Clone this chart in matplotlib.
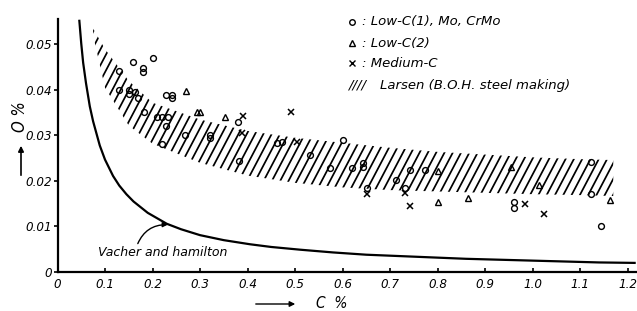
import numpy as np
import matplotlib
matplotlib.use("Agg")
import matplotlib.pyplot as plt

# Low-C(1), Mo, CrMo  (open circles)
c1_x = [0.130, 0.158, 0.181, 0.181, 0.200, 0.130, 0.151, 0.151, 0.163, 0.169, 0.182,
        0.229, 0.241, 0.241, 0.209, 0.221, 0.232, 0.228, 0.221, 0.269, 0.320, 0.320,
        0.381, 0.382, 0.462, 0.473, 0.532, 0.600, 0.574, 0.621, 0.643, 0.643, 0.651,
        0.713, 0.732, 0.742, 0.773, 0.962, 0.962, 1.123, 1.123, 1.145]
c1_y = [0.0442, 0.0461, 0.0448, 0.0440, 0.0470, 0.0400, 0.0400, 0.0391, 0.0396, 0.0382, 0.0351,
        0.0389, 0.0389, 0.0383, 0.0340, 0.0340, 0.0340, 0.0321, 0.0281, 0.0300, 0.0301, 0.0295,
        0.0330, 0.0244, 0.0283, 0.0285, 0.0258, 0.0290, 0.0228, 0.0228, 0.0240, 0.0230, 0.0184,
        0.0202, 0.0184, 0.0224, 0.0224, 0.0153, 0.0141, 0.0242, 0.0171, 0.0101]

# Low-C(2)  (open triangles)
c2_x = [0.271, 0.293, 0.301, 0.353, 0.802, 0.802, 0.865, 0.954, 1.013, 1.163]
c2_y = [0.0398, 0.0351, 0.0351, 0.0340, 0.0223, 0.0153, 0.0163, 0.0230, 0.0192, 0.0158]

# Medium-C  (crosses)
med_x = [0.391, 0.388, 0.492, 0.505, 0.651, 0.732, 0.742, 0.984, 1.024]
med_y = [0.0343, 0.0305, 0.0351, 0.0286, 0.0171, 0.0173, 0.0144, 0.0150, 0.0128]

# Larsen band (B.O.H. steel making)
band_x = [0.075, 0.10, 0.15, 0.20, 0.30, 0.40, 0.50, 0.60, 0.70, 0.80, 0.90, 1.00, 1.10, 1.17]
band_hi = [0.0535, 0.0490, 0.0420, 0.0372, 0.0335, 0.0310, 0.0295, 0.0284, 0.0273, 0.0264,
           0.0258, 0.0252, 0.0248, 0.0246]
band_lo = [0.0520, 0.0405, 0.0322, 0.0282, 0.0240, 0.0212, 0.0196, 0.0186, 0.0180, 0.0177,
           0.0174, 0.0171, 0.0169, 0.0167]

# Vacher and Hamilton curve
vh_x = [0.046, 0.050, 0.054, 0.060, 0.068, 0.075, 0.089, 0.100, 0.117, 0.130, 0.145, 0.160,
        0.190, 0.230, 0.260, 0.300, 0.350, 0.405, 0.450, 0.511, 0.580, 0.650, 0.720, 0.790,
        0.860, 0.930, 1.000, 1.070, 1.140, 1.215]
vh_y = [0.0552, 0.0502, 0.0460, 0.0415, 0.0364, 0.0331, 0.0278, 0.0247, 0.0211, 0.0190,
        0.0171, 0.0155, 0.0130, 0.0106, 0.0094, 0.0081, 0.0070, 0.0061, 0.0055, 0.0049,
        0.0043, 0.0038, 0.0035, 0.0032, 0.0029, 0.0027, 0.0025, 0.0023, 0.0021, 0.0020]

x_ticks = [0, 0.1, 0.2, 0.3, 0.4, 0.5, 0.6, 0.7, 0.8, 0.9, 1.0, 1.1, 1.2]
x_labels = ["0", "0.1", "0.2", "0.3", "0.4", "0.5", "0.6", "0.7", "0.8", "0.9", "1.0", "1.1", "1.2"]
y_ticks = [0, 0.01, 0.02, 0.03, 0.04, 0.05]
y_labels = ["0", "0.01", "0.02", "0.03", "0.04", "0.05"]

narrow = dict(family="DejaVu Sans", stretch="condensed", style="italic")
plain = dict(family="DejaVu Sans", style="italic")

fig = plt.figure(figsize=(6.37, 3.11), dpi=100)
ax = fig.add_axes([57.5 / 637, 39 / 311, 579.5 / 637, 253 / 311])
ax.set_xlim(0, 1.22)
ax.set_ylim(0, 0.0556)
for s in ["top", "right"]:
    ax.spines[s].set_visible(False)
for s in ["left", "bottom"]:
    ax.spines[s].set_linewidth(1.6)

ax.set_xticks(x_ticks)
ax.set_xticklabels(x_labels, fontsize=9.5, **narrow)
ax.set_yticks(y_ticks)
ax.set_yticklabels(y_labels, fontsize=9.5, **narrow)
ax.tick_params(axis="x", direction="in", length=3, width=1.2, pad=4)
ax.tick_params(axis="y", direction="out", length=3, width=1.2, pad=1)

# hatched band
band = ax.fill_between(band_x, band_lo, band_hi, facecolor="none", edgecolor="none")
clip = band.get_paths()[0]
slope = 1.9 * 579.5 / 253
for x0 in np.arange(-0.3, 1.0, 8.3 / 579.5):
    ln, = ax.plot([x0, x0 + 1 / slope], [0, 1], color="black", lw=1.25,
                  transform=ax.transAxes)
    ln.set_clip_path(clip, ax.transData)

ax.plot(vh_x, vh_y, color="black", lw=1.6)

ax.plot(c1_x, c1_y, "o", ms=4.2, mfc="none", mec="black", mew=1.0, clip_on=False)
ax.plot(c2_x, c2_y, "^", ms=4.5, mfc="none", mec="black", mew=1.0, clip_on=False)
ax.plot(med_x, med_y, "x", ms=4.0, mec="black", mew=1.1, clip_on=False)

# legend drawn as text
def axpos(px, py):
    return (px - 57.5) / 579.5, (272 - py) / 253

rows = [(21.7, "o", ": Low-C(1), Mo, CrMo"), (43.3, "^", ": Low-C(2)"), (63.3, "x", ": Medium-C")]
for py, m, label in rows:
    mx, my = axpos(352, py)
    ax.plot([mx], [my], m, ms=4.0, mfc="none", mec="black", mew=1.0,
            transform=ax.transAxes, clip_on=False)
    tx, ty = axpos(362, py)
    ax.text(tx, ty, label, transform=ax.transAxes, fontsize=9.5,
            va="center", ha="left", **plain)
hx, hy = axpos(349, 85)
ax.text(hx, hy, "////", transform=ax.transAxes, fontsize=9.5, va="center", ha="left", **plain)
lx, ly = axpos(380, 85)
ax.text(lx, ly, "Larsen (B.O.H. steel making)", transform=ax.transAxes, fontsize=9.5,
        va="center", ha="left", **plain)

ax.annotate("Vacher and hamilton", xy=(0.232, 0.0104), xytext=(0.085, 0.0042),
            fontsize=9.0, va="center", ha="left",
            arrowprops=dict(arrowstyle="-|>", color="black", lw=1.0,
                            connectionstyle="arc3,rad=-0.35",
                            shrinkA=0, shrinkB=0, relpos=(0.3, 1.0), mutation_scale=7),
            **plain)

# axis labels with arrows
fig.text(20 / 637, 1 - 117 / 311, "O %", rotation=90, fontsize=12,
         ha="center", va="center", **narrow)
fig.add_artist(matplotlib.patches.FancyArrowPatch(
    (21 / 637, 1 - 178 / 311), (21 / 637, 1 - 143 / 311), transform=fig.transFigure,
    arrowstyle="-|>", mutation_scale=8, color="black", lw=1.2))
fig.text(316 / 637, 1 - 303 / 311, "C  %", fontsize=11, ha="left", va="center", **narrow)
fig.add_artist(matplotlib.patches.FancyArrowPatch(
    (253 / 637, 1 - 304 / 311), (298 / 637, 1 - 304 / 311), transform=fig.transFigure,
    arrowstyle="-|>", mutation_scale=8, color="black", lw=1.0))

fig.savefig("out.png", dpi=100)
